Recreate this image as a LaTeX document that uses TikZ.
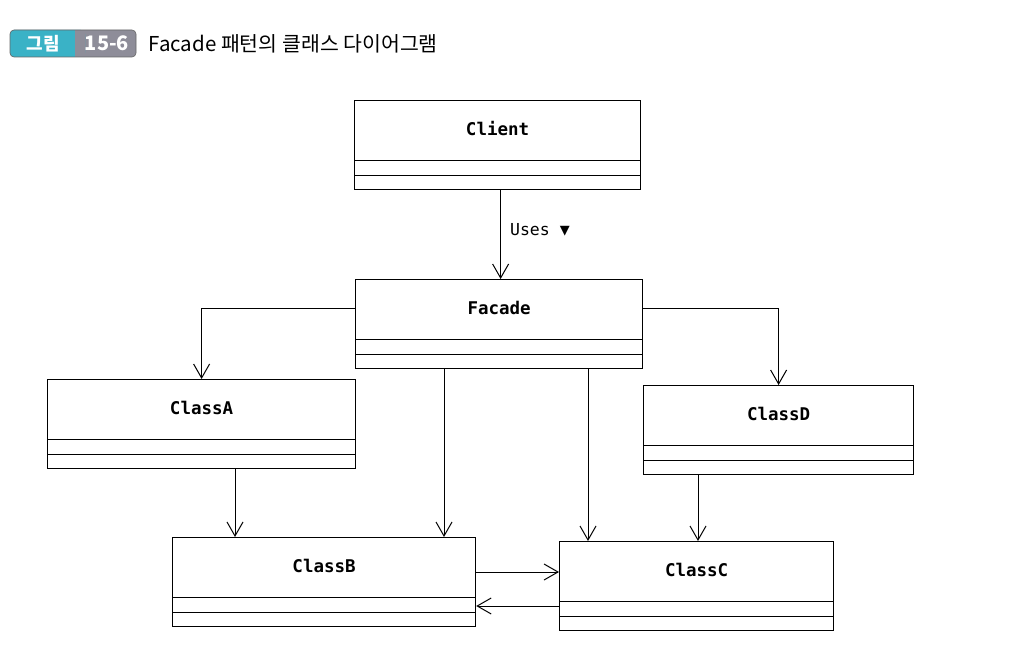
\documentclass[tikz,border=0pt]{standalone}
\usepackage{fontspec}
\newfontfamily\monofont{DejaVu Sans Mono}
\newfontfamily\krfont{Noto Sans CJK KR}
\usetikzlibrary{positioning}
\usetikzlibrary{arrows.meta}

\definecolor{badgecyan}{HTML}{3AB2C6}
\definecolor{badgegrey}{HTML}{8E8D99}

% class box: name, x, y (north west), width, label
\newcommand{\umlclass}[5]{%
  \node[class box, minimum width=#4pt] (#1) at (#2,#3) {};
  \node[class name] (#1-name) at ([yshift=-29pt]#1.north) {#5};
  \draw ([yshift=15pt]#1.south west) -- ([yshift=15pt]#1.south east);
  \draw ([yshift=30pt]#1.south west) -- ([yshift=30pt]#1.south east);
}

\begin{document}
\begin{tikzpicture}[x=1pt,y=1pt,line width=1.2pt,
    class box/.style={draw,anchor=north west,minimum height=89pt,inner sep=0pt},
    class name/.style={font=\monofont\bfseries\fontsize{17.5}{20}\selectfont,inner sep=0pt},
    uses/.style={-{Straight Barb[length=14pt,width=16pt,line width=1pt]},line width=1pt}]
  \useasboundingbox (0,0) rectangle (1027,665);

  % title badge
  \fill[badgegrey, rounded corners=4pt] (10,608) rectangle (136,635);
  \fill[badgecyan, rounded corners=4pt] (10,608) rectangle (85,635);
  \fill[badgegrey] (75,608) rectangle (85,635);
  \draw[black!60, line width=0.6pt, rounded corners=4pt] (10,608) rectangle (136,635);
  \node[font=\krfont\bfseries\fontsize{18}{21}\selectfont, text=white] (fig) at (43,621.5) {그림};
  \node[font=\krfont\bfseries\fontsize{20}{23}\selectfont, text=white] (num) at (107,621.5) {15-6};
  \node[font=\krfont\fontsize{20.5}{24}\selectfont, anchor=west, inner sep=0pt] (title) at (148,621.5)
    {Facade 패턴의 클래스 다이어그램};

  % classes
  \umlclass{client}{354}{565}{286}{Client}
  \umlclass{facade}{355}{386}{287}{Facade}
  \umlclass{classA}{47}{286}{308}{ClassA}
  \umlclass{classD}{643}{280}{270}{ClassD}
  \umlclass{classB}{172}{128}{303}{ClassB}
  \umlclass{classC}{559}{124}{274}{ClassC}

  % connectors
  \draw[uses] ([xshift=3pt]client.south) -- node[right=9pt, yshift=5pt, inner sep=0pt,
    font=\monofont\fontsize{16.5}{19}\selectfont] (useslabel) {Uses ▼}
    ([xshift=3pt]client.south |- facade.north);
  \draw[uses] (facade.west |- facade-name) -| (classA.north);
  \draw[uses] (facade.east |- facade-name) -| (classD.north);
  \draw[uses] ([xshift=89pt]facade.south west) -- ([xshift=89pt]facade.south west |- classB.north);
  \draw[uses] ([xshift=233pt]facade.south west) -- ([xshift=233pt]facade.south west |- classC.north);
  \draw[uses] ([xshift=188pt]classA.south west) -- ([xshift=188pt]classA.south west |- classB.north);
  \draw[uses] ([xshift=55pt]classD.south west) -- ([xshift=55pt]classD.south west |- classC.north);
  \draw[uses] ([yshift=-35pt]classB.north east) -- ([yshift=-35pt]classB.north east -| classC.west);
  \draw[uses] ([yshift=-65pt]classC.north west) -- ([yshift=-65pt]classC.north west -| classB.east);
\end{tikzpicture}
\end{document}
